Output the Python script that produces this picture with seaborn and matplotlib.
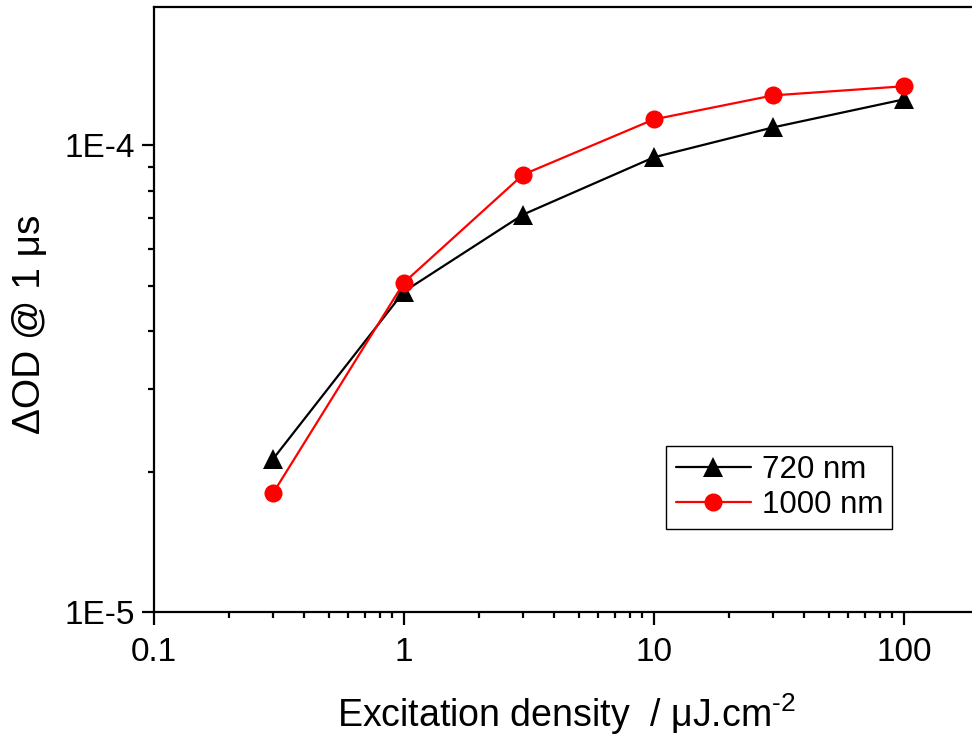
import numpy as np
import pandas as pd
import matplotlib
matplotlib.use("Agg")
import matplotlib.pyplot as plt
import matplotlib.ticker as mticker
import seaborn as sns

# Excitation densities (uJ/cm^2) and transient absorption at 1 us
density = [0.3, 1, 3, 10, 30, 100]
od_720 = [2.13e-5, 4.86e-5, 7.11e-5, 9.43e-5, 1.093e-4, 1.255e-4]
od_1000 = [1.80e-5, 5.08e-5, 8.66e-5, 1.137e-4, 1.28e-4, 1.339e-4]

x_ticks = [0.1, 1, 10, 100]
x_tick_labels = ["0.1", "1", "10", "100"]
y_ticks = [1e-5, 1e-4]
y_tick_labels = ["1E-5", "1E-4"]

sns.set_style("ticks")
plt.rcParams["font.family"] = ["Liberation Sans", "DejaVu Sans"]
plt.rcParams["mathtext.fontset"] = "custom"
plt.rcParams["mathtext.rm"] = "Liberation Sans"
plt.rcParams["mathtext.it"] = "Liberation Sans"
plt.rcParams["text.color"] = "black"
plt.rcParams["axes.labelcolor"] = "black"

df720 = pd.DataFrame({"density": density, "od": od_720})
df1000 = pd.DataFrame({"density": density, "od": od_1000})

fig = plt.figure(figsize=(9.72, 7.37), dpi=100)
ax = fig.add_axes([0.1584, 0.1696, 0.8488, 0.8209])

sns.lineplot(data=df720, x="density", y="od", ax=ax, color="black",
             marker="^", markersize=14, markeredgewidth=0, linewidth=1.6,
             label="720 nm")
sns.lineplot(data=df1000, x="density", y="od", ax=ax, color="#ff0000",
             marker="o", markersize=13, markeredgewidth=0, linewidth=1.6,
             label="1000 nm")

ax.set_xscale("log")
ax.set_yscale("log")
ax.set_xlim(0.1, 200)
ax.set_ylim(1e-5, 1.98e-4)

ax.xaxis.set_major_locator(mticker.FixedLocator(x_ticks))
ax.xaxis.set_major_formatter(mticker.FixedFormatter(x_tick_labels))
ax.xaxis.set_minor_locator(mticker.LogLocator(base=10, subs=np.arange(2, 10)))
ax.xaxis.set_minor_formatter(mticker.NullFormatter())
ax.yaxis.set_major_locator(mticker.FixedLocator(y_ticks))
ax.yaxis.set_major_formatter(mticker.FixedFormatter(y_tick_labels))
ax.yaxis.set_minor_locator(mticker.LogLocator(base=10, subs=np.arange(2, 10)))
ax.yaxis.set_minor_formatter(mticker.NullFormatter())

for s in ax.spines.values():
    s.set_linewidth(1.6)
    s.set_color("black")
ax.tick_params(which="major", direction="out", length=9, width=1.6,
               labelsize=24, colors="black", labelcolor="black")
ax.tick_params(axis="x", which="major", pad=9)
ax.tick_params(axis="y", which="major", pad=5)
ax.tick_params(which="minor", direction="out", length=4.5, width=1.6,
               colors="black")

ax.set_xlabel("Excitation density  / \u03bcJ.cm$^{\\text{-2}}$", fontsize=27,
              labelpad=17, color="black")
ax.set_ylabel("\u0394OD @ 1 \u03bcs", fontsize=28, color="black")
ax.yaxis.set_label_coords(-0.129, 0.475)

leg = ax.legend(loc="lower left", bbox_to_anchor=(0.621, 0.137), fontsize=22.5,
                frameon=True, fancybox=False, shadow=False, framealpha=1,
                edgecolor="black", handlelength=2.4, handletextpad=0.35,
                borderpad=0.3, labelspacing=0.15, borderaxespad=0)
leg.get_frame().set_linewidth(1.0)
for t in leg.get_texts():
    t.set_color("black")

fig.savefig("out.png", dpi=100)
